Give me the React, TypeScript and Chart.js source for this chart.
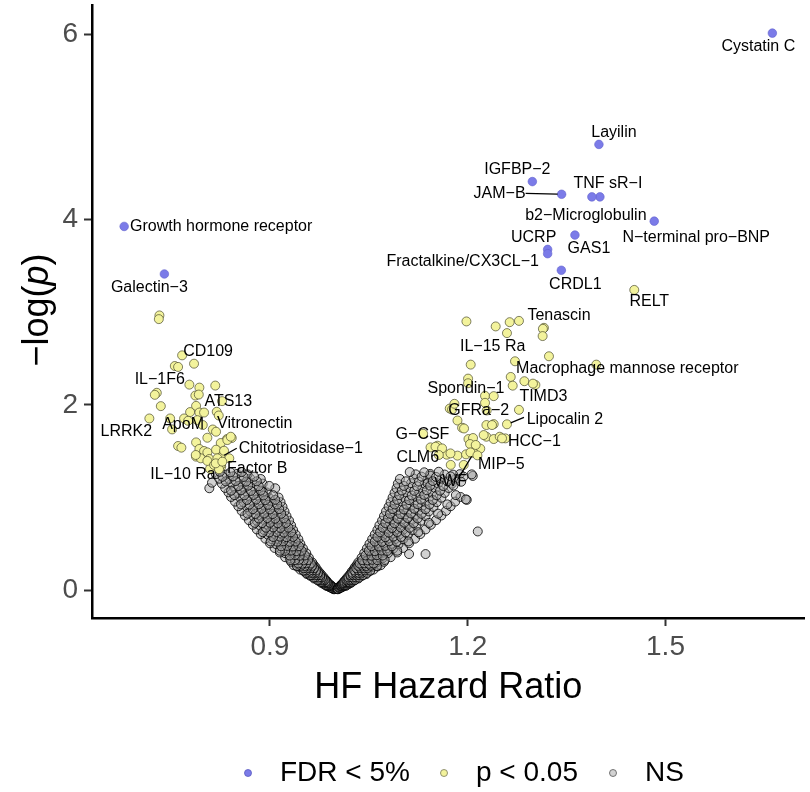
import React, { useEffect, useRef } from "react";
import { Chart, registerables } from "chart.js";
Chart.register(...registerables);

// ---------------- data ----------------
const X_TICKS = [0.9, 1.2, 1.5];
const Y_TICKS = [0, 2, 4, 6];
const LEGEND_LABELS = ["FDR < 5%", "p < 0.05", "NS"];

// FDR < 5% (all labelled)
const fdrNames = [
  "Cystatin C", "Layilin", "IGFBP−2", "JAM−B", "TNF sR−I", "b2−Microglobulin",
  "N−terminal pro−BNP", "GAS1", "UCRP", "Fractalkine/CX3CL−1", "CRDL1",
  "Growth hormone receptor", "Galectin−3",
];
const fdrHR = [1.6621, 1.399, 1.298, 1.3424, 1.4005, 1.3883, 1.4829, 1.3626, 1.3212, 1.3212, 1.342, 0.6788, 0.7398];
const fdrLogP = [6.011, 4.81, 4.409, 4.272, 4.244, 4.244, 3.982, 3.832, 3.677, 3.631, 3.452, 3.925, 3.412];

// p < 0.05, labelled ones first
const sigNames = [
  "CD109", "IL−1F6", "ATS13", "LRRK2", "ApoM", "Vitronectin", "Chitotriosidase−1",
  "Factor B", "IL−10 Ra", "Tenascin", "IL−15 Ra", "Macrophage mannose receptor",
  "Spondin−1", "TIMD3", "GFRa−2", "Lipocalin 2", "G−CSF", "HCC−1", "CLM6", "MIP−5",
  "vWF", "RELT",
];
const sigHR = [
  0.7667, 0.7283, 0.817, 0.717, 0.7515, 0.842, 0.8253, 0.826, 0.809, 1.3156, 1.2045, 1.395,
  1.2262, 1.3026, 1.2288, 1.2595, 1.1435, 1.2571, 1.159, 1.219, 1.209, 1.4526,
  // unlabelled, left
  0.7323, 0.7314, 0.7848, 0.7556, 0.7606, 0.7777, 0.7929, 0.7253, 0.7868, 0.792, 0.7344, 0.7879,
  0.8273, 0.7788, 0.7929, 0.8, 0.8192, 0.8223, 0.7485, 0.7697, 0.7758, 0.7898, 0.798, 0.8132,
  0.8182, 0.805, 0.8348, 0.7879, 0.8253, 0.7606, 0.7656, 0.7929, 0.8, 0.805, 0.8182, 0.8303,
  0.7879, 0.795, 0.808, 0.8202, 0.8383, 0.805, 0.8152, 0.8253, 0.8227, 0.8353, 0.8405, 0.8177,
  0.7874, 0.8277,
  // unlabelled, right
  1.198, 1.2424, 1.2636, 1.2777, 1.2595, 1.314, 1.3136, 1.3232, 1.2717, 1.2005, 1.2005, 1.2652,
  1.2682, 1.2859, 1.2989, 1.2394, 1.2262, 1.1727, 1.1762, 1.1798, 1.2777, 1.1844, 1.1914, 1.1944,
  1.2283, 1.2394, 1.1323, 1.2283, 1.2394, 1.2485, 1.2011, 1.208, 1.2035, 1.2121, 1.1541, 1.1682,
  1.1844, 1.1974, 1.2041, 1.2147, 1.1742, 1.1939, 1.1511, 1.1611, 1.1738, 1.2242, 1.2368, 1.252,
  1.1561,
];
const sigLogP = [
  2.534, 2.13, 2.208, 1.853, 1.735, 1.642, 1.435, 1.333, 1.31, 2.831, 2.434, 2.434,
  2.097, 2.215, 1.939, 1.79, 1.541, 1.638, 1.481, 1.527, 1.481, 3.24,
  // unlabelled, left
  2.965, 2.925, 2.444, 2.419, 2.409, 2.218, 2.186, 2.108, 2.1, 2.111, 1.986, 1.989,
  2.04, 1.922, 1.917, 1.917, 1.925, 1.885, 1.853, 1.853, 1.828, 1.835, 1.782, 1.734,
  1.71, 1.645, 1.631, 1.595, 1.588, 1.556, 1.538, 1.524, 1.502, 1.487, 1.516, 1.505,
  1.441, 1.423, 1.416, 1.423, 1.423, 1.395, 1.352, 1.352, 1.305, 1.62, 1.656, 1.369,
  1.459, 1.387,
  // unlabelled, right
  2.9, 2.846, 2.892, 2.906, 2.774, 2.82, 2.742, 2.524, 2.47, 2.283, 2.233, 2.301,
  2.207, 2.255, 2.229, 2.094, 2.022, 1.96, 1.949, 2.011, 1.946, 1.831, 1.753, 1.745,
  1.782, 1.792, 1.688, 1.656, 1.631, 1.656, 1.631, 1.642, 1.577, 1.567, 1.559, 1.462,
  1.452, 1.466, 1.487, 1.455, 1.352, 1.352, 1.548, 1.53, 1.476, 1.674, 1.782, 1.638,
  1.459,
];

// NS, left arm [HR, -log p]
const nsLeft: [number, number][] = [
  [0.997, 0.015], [0.996, 0.025], [0.996, 0.02], [0.995, 0.03], [0.995, 0.018], [0.994, 0.022],
  [0.995, 0.035], [0.994, 0.04], [0.993, 0.032], [0.992, 0.038], [0.991, 0.034], [0.99, 0.036],
  [0.993, 0.05], [0.991, 0.055], [0.99, 0.048], [0.988, 0.052], [0.987, 0.05], [0.986, 0.046],
  [0.99, 0.065], [0.989, 0.062], [0.987, 0.068], [0.985, 0.066], [0.984, 0.07], [0.982, 0.064],
  [0.988, 0.08], [0.986, 0.083], [0.984, 0.078], [0.982, 0.082], [0.98, 0.085], [0.978, 0.079],
  [0.986, 0.1], [0.983, 0.095], [0.981, 0.103], [0.978, 0.1], [0.976, 0.098], [0.973, 0.105],
  [0.983, 0.125], [0.98, 0.12], [0.976, 0.128], [0.973, 0.123], [0.97, 0.13], [0.967, 0.126],
  [0.98, 0.15], [0.976, 0.155], [0.972, 0.147], [0.969, 0.152], [0.965, 0.15], [0.961, 0.156],
  [0.977, 0.175], [0.972, 0.172], [0.968, 0.178], [0.964, 0.176], [0.96, 0.18], [0.956, 0.174],
  [0.974, 0.2], [0.969, 0.205], [0.965, 0.197], [0.96, 0.202], [0.955, 0.2], [0.951, 0.208],
  [0.971, 0.225], [0.966, 0.22], [0.961, 0.228], [0.956, 0.224], [0.951, 0.23], [0.946, 0.222],
  [0.969, 0.25], [0.963, 0.255], [0.957, 0.248], [0.952, 0.252], [0.946, 0.25], [0.941, 0.256],
  [0.966, 0.275], [0.96, 0.272], [0.954, 0.278], [0.948, 0.276], [0.942, 0.28], [0.936, 0.27],
  [0.964, 0.3], [0.957, 0.305], [0.951, 0.297], [0.944, 0.302], [0.938, 0.3], [0.932, 0.307],
  [0.959, 0.35], [0.952, 0.345], [0.945, 0.355], [0.937, 0.35], [0.93, 0.348], [0.923, 0.356],
  [0.955, 0.4], [0.947, 0.405], [0.939, 0.397], [0.931, 0.402], [0.923, 0.4], [0.915, 0.407],
  [0.95, 0.45], [0.942, 0.455], [0.933, 0.447], [0.924, 0.452], [0.916, 0.45], [0.907, 0.456],
  [0.946, 0.5], [0.937, 0.495], [0.928, 0.505], [0.918, 0.5], [0.909, 0.498], [0.9, 0.506],
  [0.943, 0.55], [0.932, 0.555], [0.922, 0.547], [0.913, 0.552], [0.903, 0.55], [0.893, 0.556],
  [0.939, 0.6], [0.928, 0.595], [0.918, 0.605], [0.907, 0.6], [0.897, 0.598], [0.886, 0.606],
  [0.935, 0.65], [0.924, 0.655], [0.913, 0.647], [0.902, 0.652], [0.891, 0.65], [0.88, 0.656],
  [0.932, 0.7], [0.92, 0.695], [0.908, 0.705], [0.897, 0.7], [0.885, 0.698], [0.874, 0.706],
  [0.929, 0.75], [0.916, 0.755], [0.904, 0.747], [0.892, 0.752], [0.88, 0.75], [0.868, 0.756],
  [0.925, 0.8], [0.912, 0.795], [0.9, 0.805], [0.887, 0.8], [0.875, 0.798], [0.862, 0.806],
  [0.922, 0.85], [0.909, 0.855], [0.896, 0.847], [0.882, 0.852], [0.87, 0.85], [0.857, 0.856],
  [0.919, 0.9], [0.905, 0.895], [0.892, 0.905], [0.878, 0.9], [0.865, 0.898], [0.852, 0.906],
  [0.916, 0.95], [0.902, 0.955], [0.888, 0.947], [0.874, 0.952], [0.86, 0.95], [0.847, 0.956],
  [0.913, 1.0], [0.899, 0.995], [0.884, 1.005], [0.87, 1.0], [0.855, 0.998], [0.841, 1.006],
  [0.895, 1.055], [0.88, 1.047], [0.866, 1.052], [0.851, 1.05], [0.837, 1.056],
  [0.908, 1.1], [0.877, 1.105], [0.861, 1.097], [0.847, 1.1], [0.832, 1.103],
  [0.889, 1.15], [0.873, 1.155], [0.858, 1.147], [0.842, 1.152], [0.827, 1.15],
  [0.886, 1.2], [0.87, 1.205], [0.854, 1.197], [0.838, 1.2], [0.823, 1.203],
  [0.866, 1.25], [0.85, 1.255], [0.834, 1.248], [0.818, 1.252],
  [0.889, 1.06], [0.808, 1.1], [0.812, 1.16],
  // in-between
  [0.998, 0.012], [0.997, 0.01], [0.997, 0.014],
  [0.995, 0.028], [0.994, 0.026], [0.993, 0.03], [0.992, 0.029],
  [0.993, 0.043], [0.991, 0.045], [0.989, 0.041], [0.988, 0.044],
  [0.991, 0.058], [0.989, 0.06], [0.987, 0.057], [0.986, 0.059], [0.984, 0.056],
  [0.988, 0.073], [0.986, 0.075], [0.983, 0.072], [0.981, 0.074],
  [0.986, 0.09], [0.984, 0.088], [0.981, 0.092], [0.979, 0.089], [0.977, 0.091],
  [0.983, 0.112], [0.98, 0.114], [0.977, 0.11], [0.974, 0.113], [0.972, 0.111],
  [0.979, 0.138], [0.976, 0.14], [0.973, 0.136], [0.969, 0.139], [0.966, 0.137],
  [0.976, 0.163], [0.972, 0.165], [0.968, 0.161], [0.964, 0.164], [0.961, 0.162],
  [0.973, 0.188], [0.969, 0.19], [0.964, 0.186], [0.96, 0.189], [0.955, 0.187],
  [0.97, 0.213], [0.965, 0.215], [0.96, 0.211], [0.955, 0.214], [0.951, 0.212],
  [0.967, 0.238], [0.962, 0.24], [0.956, 0.236], [0.951, 0.239],
  [0.964, 0.263], [0.959, 0.265], [0.953, 0.261], [0.947, 0.264], [0.941, 0.262],
  [0.962, 0.288], [0.955, 0.29], [0.949, 0.286], [0.943, 0.289],
  [0.958, 0.325], [0.951, 0.322], [0.944, 0.328], [0.938, 0.324], [0.931, 0.326],
  [0.953, 0.375], [0.945, 0.372], [0.938, 0.378], [0.93, 0.374],
  [0.948, 0.425], [0.94, 0.422], [0.932, 0.428], [0.923, 0.424], [0.915, 0.426],
  [0.944, 0.475], [0.935, 0.472], [0.926, 0.478], [0.917, 0.474],
  [0.939, 0.525], [0.93, 0.522], [0.92, 0.528], [0.911, 0.524], [0.901, 0.526],
  [0.935, 0.575], [0.925, 0.572], [0.915, 0.578], [0.905, 0.574],
  [0.932, 0.625], [0.921, 0.622], [0.91, 0.628], [0.899, 0.624], [0.889, 0.626],
  [0.928, 0.675], [0.916, 0.672], [0.905, 0.678], [0.894, 0.674],
  [0.924, 0.725], [0.912, 0.722], [0.9, 0.728], [0.888, 0.724], [0.877, 0.726],
  [0.921, 0.775], [0.908, 0.772], [0.896, 0.778], [0.883, 0.774],
  [0.917, 0.825], [0.904, 0.822], [0.891, 0.828], [0.878, 0.824], [0.866, 0.826],
  [0.914, 0.875], [0.9, 0.872], [0.887, 0.878], [0.874, 0.874],
  [0.911, 0.925], [0.897, 0.922], [0.883, 0.928], [0.869, 0.924], [0.856, 0.926],
  [0.908, 0.975], [0.893, 0.972], [0.879, 0.978], [0.865, 0.974],
  [0.905, 1.025], [0.89, 1.022], [0.875, 1.028], [0.861, 1.024], [0.846, 1.026],
  [0.886, 1.075], [0.871, 1.072], [0.856, 1.078], [0.841, 1.074],
  [0.899, 1.125], [0.883, 1.122], [0.867, 1.128], [0.852, 1.124],
  [0.88, 1.175], [0.864, 1.172], [0.848, 1.178], [0.833, 1.174],
  [0.876, 1.225], [0.86, 1.222], [0.844, 1.228], [0.828, 1.224],
  [0.857, 1.275], [0.84, 1.272], [0.824, 1.278],
];

// NS, right arm [HR, -log p]
const nsRight: [number, number][] = [
  [1.003, 0.015], [1.003, 0.025], [1.004, 0.02], [1.005, 0.03], [1.005, 0.018], [1.006, 0.022],
  [1.005, 0.035], [1.006, 0.04], [1.007, 0.032], [1.008, 0.038], [1.009, 0.034], [1.01, 0.036],
  [1.007, 0.05], [1.008, 0.055], [1.01, 0.048], [1.011, 0.052], [1.012, 0.05], [1.015, 0.046],
  [1.009, 0.065], [1.011, 0.062], [1.012, 0.068], [1.014, 0.066], [1.016, 0.07], [1.019, 0.064],
  [1.011, 0.08], [1.013, 0.083], [1.015, 0.078], [1.017, 0.082], [1.019, 0.085], [1.023, 0.079],
  [1.013, 0.1], [1.016, 0.095], [1.018, 0.103], [1.021, 0.1], [1.024, 0.098], [1.028, 0.105],
  [1.016, 0.125], [1.019, 0.12], [1.023, 0.128], [1.026, 0.123], [1.029, 0.13], [1.034, 0.126],
  [1.019, 0.15], [1.023, 0.155], [1.027, 0.147], [1.03, 0.152], [1.034, 0.15], [1.04, 0.156],
  [1.022, 0.175], [1.026, 0.172], [1.03, 0.178], [1.035, 0.176], [1.039, 0.18], [1.046, 0.174],
  [1.024, 0.2], [1.029, 0.205], [1.034, 0.197], [1.039, 0.202], [1.044, 0.2], [1.052, 0.208],
  [1.027, 0.225], [1.032, 0.22], [1.038, 0.228], [1.043, 0.224], [1.049, 0.23], [1.057, 0.222],
  [1.029, 0.25], [1.035, 0.255], [1.041, 0.248], [1.048, 0.252], [1.054, 0.25], [1.063, 0.256],
  [1.032, 0.275], [1.038, 0.272], [1.045, 0.278], [1.052, 0.276], [1.058, 0.28], [1.068, 0.27],
  [1.034, 0.3], [1.041, 0.305], [1.048, 0.297], [1.055, 0.302], [1.062, 0.3], [1.073, 0.307],
  [1.039, 0.35], [1.047, 0.345], [1.055, 0.355], [1.063, 0.35], [1.071, 0.348], [1.083, 0.356],
  [1.043, 0.4], [1.052, 0.405], [1.061, 0.397], [1.07, 0.402], [1.079, 0.4], [1.093, 0.407],
  [1.047, 0.45], [1.057, 0.455], [1.067, 0.447], [1.077, 0.452], [1.087, 0.45], [1.102, 0.456],
  [1.051, 0.5], [1.062, 0.495], [1.073, 0.505], [1.084, 0.5], [1.095, 0.498], [1.111, 0.506],
  [1.055, 0.55], [1.067, 0.555], [1.078, 0.547], [1.09, 0.552], [1.102, 0.55], [1.12, 0.556],
  [1.059, 0.6], [1.071, 0.595], [1.084, 0.605], [1.096, 0.6], [1.109, 0.598], [1.128, 0.606],
  [1.063, 0.65], [1.076, 0.655], [1.089, 0.647], [1.102, 0.652], [1.116, 0.65], [1.136, 0.656],
  [1.066, 0.7], [1.08, 0.695], [1.094, 0.705], [1.108, 0.7], [1.122, 0.698], [1.144, 0.706],
  [1.07, 0.75], [1.084, 0.755], [1.099, 0.747], [1.114, 0.752], [1.129, 0.75], [1.152, 0.756],
  [1.073, 0.8], [1.088, 0.795], [1.104, 0.805], [1.12, 0.8], [1.136, 0.798], [1.16, 0.806],
  [1.076, 0.85], [1.092, 0.855], [1.108, 0.847], [1.125, 0.852], [1.141, 0.85], [1.167, 0.856],
  [1.08, 0.9], [1.096, 0.895], [1.113, 0.905], [1.13, 0.9], [1.148, 0.898], [1.174, 0.906],
  [1.083, 0.95], [1.1, 0.955], [1.118, 0.947], [1.135, 0.952], [1.153, 0.95], [1.181, 0.956],
  [1.086, 1.0], [1.104, 0.995], [1.122, 1.005], [1.141, 1.0], [1.16, 0.998], [1.189, 1.006],
  [1.089, 1.05], [1.107, 1.055], [1.126, 1.047], [1.146, 1.052], [1.165, 1.05],
  [1.092, 1.1], [1.111, 1.105], [1.131, 1.097], [1.151, 1.1], [1.171, 1.103],
  [1.094, 1.15], [1.114, 1.155], [1.135, 1.147], [1.155, 1.152], [1.176, 1.15],
  [1.097, 1.2], [1.118, 1.205], [1.139, 1.197], [1.16, 1.2], [1.182, 1.203],
  [1.121, 1.25], [1.143, 1.255], [1.165, 1.248], [1.188, 1.252],
  [1.1777, 1.247], [1.1935, 1.226], [1.2076, 1.233], [1.1783, 1.129], [1.1985, 0.975],
  [1.1429, 1.237], [1.139, 1.154], [1.2152, 0.634], [1.136, 0.39], [1.111, 0.39],
  [1.19, 1.17], [1.197, 0.98], [1.206, 1.25],
  // in-between
  [1.002, 0.012], [1.003, 0.01], [1.003, 0.014],
  [1.004, 0.028], [1.005, 0.026], [1.006, 0.03], [1.008, 0.029],
  [1.007, 0.043], [1.008, 0.045], [1.01, 0.041], [1.012, 0.044],
  [1.009, 0.058], [1.01, 0.06], [1.012, 0.057], [1.013, 0.059], [1.016, 0.056],
  [1.011, 0.073], [1.013, 0.075], [1.017, 0.072], [1.02, 0.074],
  [1.013, 0.09], [1.016, 0.088], [1.018, 0.092], [1.02, 0.089], [1.024, 0.091],
  [1.016, 0.112], [1.019, 0.114], [1.022, 0.11], [1.025, 0.113], [1.029, 0.111],
  [1.019, 0.138], [1.023, 0.14], [1.026, 0.136], [1.03, 0.139], [1.035, 0.137],
  [1.022, 0.163], [1.026, 0.165], [1.031, 0.161], [1.035, 0.164], [1.041, 0.162],
  [1.025, 0.188], [1.03, 0.19], [1.035, 0.186], [1.04, 0.189], [1.047, 0.187],
  [1.028, 0.213], [1.034, 0.215], [1.039, 0.211], [1.044, 0.214], [1.052, 0.212],
  [1.031, 0.238], [1.037, 0.24], [1.043, 0.236], [1.048, 0.239],
  [1.034, 0.263], [1.04, 0.265], [1.046, 0.261], [1.053, 0.264], [1.062, 0.262],
  [1.036, 0.288], [1.043, 0.29], [1.05, 0.286], [1.057, 0.289],
  [1.04, 0.325], [1.048, 0.322], [1.055, 0.328], [1.063, 0.324], [1.074, 0.326],
  [1.045, 0.375], [1.054, 0.372], [1.062, 0.378], [1.071, 0.374],
  [1.05, 0.425], [1.059, 0.422], [1.069, 0.428], [1.078, 0.424], [1.093, 0.426],
  [1.054, 0.475], [1.065, 0.472], [1.075, 0.478], [1.085, 0.474],
  [1.059, 0.525], [1.07, 0.522], [1.081, 0.528], [1.092, 0.524], [1.11, 0.526],
  [1.063, 0.575], [1.075, 0.572], [1.087, 0.578], [1.099, 0.574],
  [1.067, 0.625], [1.08, 0.622], [1.093, 0.628], [1.106, 0.624], [1.125, 0.626],
  [1.071, 0.675], [1.085, 0.672], [1.098, 0.678], [1.112, 0.674],
  [1.075, 0.725], [1.089, 0.722], [1.104, 0.728], [1.118, 0.724], [1.141, 0.726],
  [1.079, 0.775], [1.094, 0.772], [1.109, 0.778], [1.124, 0.774],
  [1.082, 0.825], [1.098, 0.822], [1.114, 0.828], [1.13, 0.824], [1.155, 0.826],
  [1.086, 0.875], [1.103, 0.872], [1.119, 0.878], [1.136, 0.874],
  [1.089, 0.925], [1.107, 0.922], [1.124, 0.928], [1.142, 0.924], [1.169, 0.926],
  [1.093, 0.975], [1.111, 0.972], [1.129, 0.978], [1.147, 0.974],
  [1.096, 1.025], [1.115, 1.022], [1.134, 1.028], [1.153, 1.024], [1.182, 1.026],
  [1.1, 1.075], [1.119, 1.072], [1.138, 1.078], [1.158, 1.074],
  [1.103, 1.125], [1.123, 1.122], [1.143, 1.128], [1.163, 1.124],
  [1.106, 1.175], [1.126, 1.172], [1.147, 1.178], [1.169, 1.174],
  [1.13, 1.225], [1.152, 1.222], [1.174, 1.228],
  [1.112, 1.275], [1.134, 1.272], [1.156, 1.278],
];

// ---------------- styling (not data) ----------------
// label centre offset from its point in px, optional leader line end offset
const LABEL_OFFSETS: Record<string, number[]> = {
  "Cystatin C": [-14, 13], "Layilin": [15, -12], "IGFBP−2": [-15, -12],
  "JAM−B": [-62, -1, -36, -1], "TNF sR−I": [8, -13], "b2−Microglobulin": [-6, 19],
  "N−terminal pro−BNP": [42, 16], "GAS1": [14, 14], "UCRP": [-14, -12],
  "Fractalkine/CX3CL−1": [-85, 8], "CRDL1": [14, 14], "Growth hormone receptor": [97, 0],
  "Galectin−3": [-15, 14],
  "CD109": [26, -4], "IL−1F6": [3, -13], "ATS13": [13, 16], "LRRK2": [-23, 13],
  "ApoM": [11, -5], "Vitronectin": [23, -14], "Chitotriosidase−1": [80, -9, 16, -9],
  "Factor B": [36, 2], "IL−10 Ra": [-27, 6], "Tenascin": [15, -12], "IL−15 Ra": [22, -18],
  "Macrophage mannose receptor": [31, 4], "Spondin−1": [-19, -7], "TIMD3": [8, 12],
  "GFRa−2": [-8, 0], "Lipocalin 2": [58, -5, 17, -7], "G−CSF": [-8, -13], "HCC−1": [29, 3],
  "CLM6": [-23, 5], "MIP−5": [21, 16], "vWF": [-23, 29, -15, 25], "RELT": [15, 12],
};

const FONT = "'Liberation Sans', Arial, Helvetica, sans-serif";
const BLUE = "#7b7be8";
const YELLOW = "#f3f39c";
const GRAY = "rgba(165,165,165,0.5)";

export default function App() {
  const ref = useRef<HTMLCanvasElement | null>(null);

  useEffect(() => {
    const canvas = ref.current;
    if (!canvas) return;

    const fdrData = fdrHR.map((x, i) => ({ x, y: fdrLogP[i] }));
    const sigData = sigHR.map((x, i) => ({ x, y: sigLogP[i] }));
    const nsData = [...nsLeft, ...nsRight].map(([x, y]) => ({ x, y }));

    const annotate = {
      id: "annotate",
      afterDatasetsDraw(chart: any) {
        const { ctx, scales } = chart;
        const xs = scales.x;
        const ys = scales.y;
        ctx.save();
        ctx.font = `16px ${FONT}`;
        ctx.fillStyle = "#000";
        ctx.textAlign = "center";
        ctx.textBaseline = "middle";
        const drawSet = (names: string[], hr: number[], lp: number[]) => {
          names.forEach((name, i) => {
            const off = LABEL_OFFSETS[name] || [0, -12];
            const px = xs.getPixelForValue(hr[i]);
            const py = ys.getPixelForValue(lp[i]);
            if (off.length > 2) {
              ctx.beginPath();
              ctx.strokeStyle = "#000";
              ctx.lineWidth = 1.3;
              const dx = off[2], dy = off[3];
              const len = Math.hypot(dx, dy);
              ctx.moveTo(px + (dx / len) * 4, py + (dy / len) * 4);
              ctx.lineTo(px + dx, py + dy);
              ctx.stroke();
            }
            ctx.fillText(name, px + off[0], py + off[1]);
          });
        };
        drawSet(fdrNames, fdrHR, fdrLogP);
        drawSet(sigNames, sigHR, sigLogP);
        ctx.restore();
      },
      afterDraw(chart: any) {
        const { ctx, chartArea } = chart;
        ctx.save();
        ctx.fillStyle = "#000";
        // x title
        ctx.font = `36px ${FONT}`;
        ctx.textAlign = "center";
        ctx.textBaseline = "middle";
        ctx.fillText("HF Hazard Ratio", (chartArea.left + chartArea.right) / 2, 688);
        // y title with italic p
        ctx.translate(38, 310);
        ctx.rotate(-Math.PI / 2);
        const parts = [
          { t: "−log(", f: `36px ${FONT}` },
          { t: "p", f: `italic 36px ${FONT}` },
          { t: ")", f: `36px ${FONT}` },
        ];
        let total = 0;
        parts.forEach((p) => { ctx.font = p.f; total += ctx.measureText(p.t).width; });
        let cx = -total / 2;
        ctx.textAlign = "left";
        parts.forEach((p) => { ctx.font = p.f; ctx.fillText(p.t, cx, 0); cx += ctx.measureText(p.t).width; });
        ctx.setTransform(1, 0, 0, 1, 0, 0);
        // legend
        const fills = [BLUE, YELLOW, "rgb(210,210,210)"];
        const strokes = ["#5a5ac0", "#77775a", "#555"];
        const xsDot = [248, 444, 613];
        ctx.font = `28px ${FONT}`;
        ctx.textBaseline = "middle";
        ctx.textAlign = "left";
        LEGEND_LABELS.forEach((lab, i) => {
          ctx.beginPath();
          ctx.arc(xsDot[i], 773, 3.5, 0, Math.PI * 2);
          ctx.fillStyle = fills[i];
          ctx.fill();
          ctx.lineWidth = 0.8;
          ctx.strokeStyle = strokes[i];
          ctx.stroke();
          ctx.fillStyle = "#000";
          ctx.fillText(lab, xsDot[i] + 32, 773);
        });
        ctx.restore();
      },
    };

    const chart = new Chart(canvas, {
      type: "scatter",
      data: {
        datasets: [
          {
            label: LEGEND_LABELS[0], data: fdrData, order: 0,
            backgroundColor: BLUE, borderColor: "#6262cc", borderWidth: 0.6, pointRadius: 4.3,
          },
          {
            label: LEGEND_LABELS[1], data: sigData, order: 1,
            backgroundColor: YELLOW, borderColor: "rgba(70,70,40,0.85)", borderWidth: 0.8, pointRadius: 4.5,
          },
          {
            label: LEGEND_LABELS[2], data: nsData, order: 2,
            backgroundColor: GRAY, borderColor: "rgba(0,0,0,0.9)", borderWidth: 0.9, pointRadius: 4.5,
          },
        ],
      },
      options: {
        animation: false,
        responsive: false,
        events: [],
        layout: { padding: { top: 2, right: 4, left: 0, bottom: 0 } },
        plugins: { legend: { display: false }, tooltip: { enabled: false } },
        scales: {
          x: {
            type: "linear", min: 0.63, max: 1.711,
            afterBuildTicks: (s: any) => { s.ticks = X_TICKS.map((v) => ({ value: v })); },
            afterFit: (s: any) => { s.height = 174; s.paddingLeft = 0; s.paddingRight = 0; },
            ticks: { color: "#4d4d4d", font: { size: 28, family: FONT }, padding: 4, callback: (v: any) => String(v) },
            grid: { drawOnChartArea: false, drawTicks: true, tickLength: 8, tickColor: "#333", tickWidth: 2 },
            border: { display: true, color: "#000", width: 2.5 },
          },
          y: {
            type: "linear", min: -0.3, max: 6.31,
            afterBuildTicks: (s: any) => { s.ticks = Y_TICKS.map((v) => ({ value: v })); },
            afterFit: (s: any) => { s.width = 92; s.paddingTop = 0; s.paddingBottom = 0; },
            ticks: { color: "#4d4d4d", font: { size: 28, family: FONT }, padding: 6, callback: (v: any) => String(v) },
            grid: { drawOnChartArea: false, drawTicks: true, tickLength: 8, tickColor: "#333", tickWidth: 2 },
            border: { display: true, color: "#000", width: 2.5 },
          },
        },
      },
      plugins: [annotate],
    });
    return () => chart.destroy();
  }, []);

  return (
    <div style={{ position: "fixed", left: 0, top: 0, width: 810, height: 792, background: "#fff" }}>
      <canvas ref={ref} width={810} height={792} />
    </div>
  );
}
